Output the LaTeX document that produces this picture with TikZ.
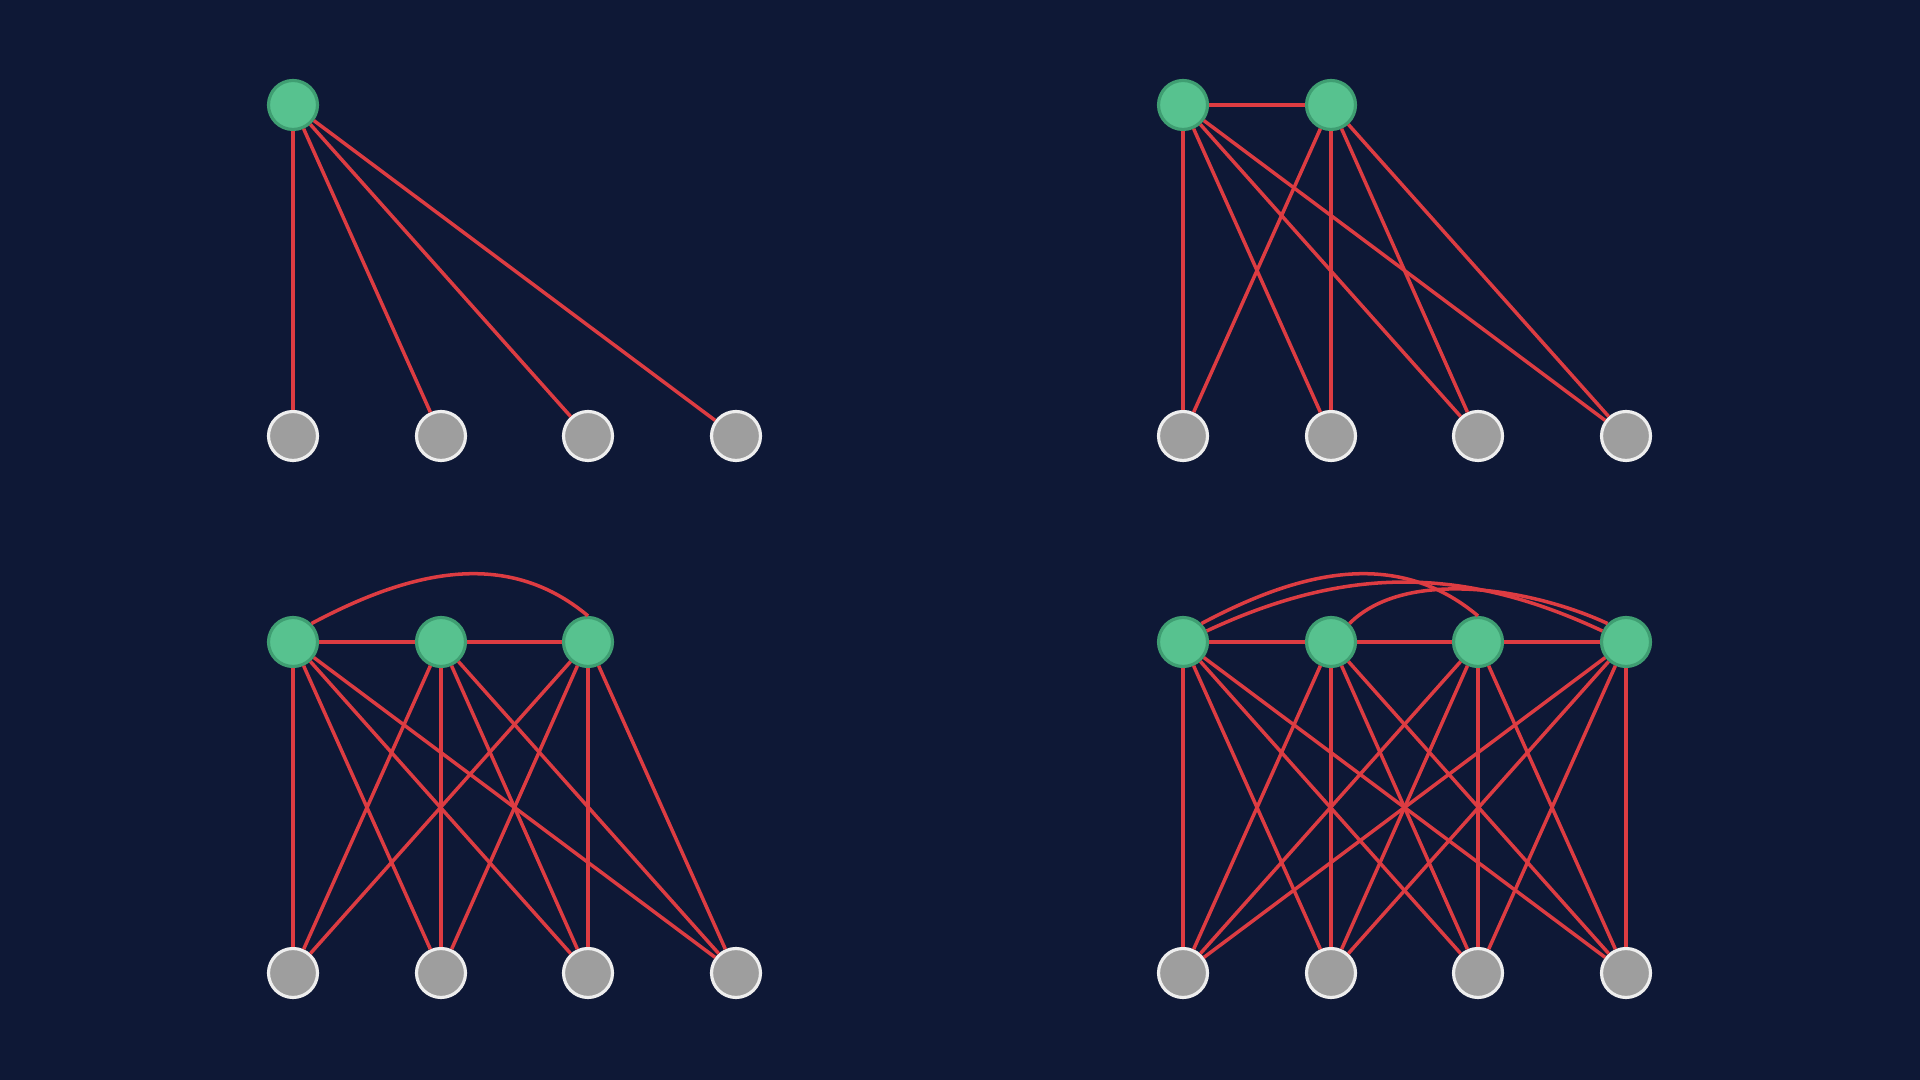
\documentclass[tikz,border=0pt]{standalone}
\usepackage{tikz}
\definecolor{bgnavy}{RGB}{14,24,54}
\definecolor{hubgreen}{RGB}{87,194,143}
\definecolor{hubrim}{RGB}{63,158,114}
\definecolor{leafgray}{RGB}{158,158,158}
\definecolor{leafrim}{RGB}{238,238,238}
\definecolor{linkred}{RGB}{221,60,66}
\tikzset{
    hub/.style={circle, fill=hubgreen, draw=hubrim, line width=0.9pt, minimum size=4.9mm, inner sep=0pt},
    leaf/.style={circle, fill=leafgray, draw=leafrim, line width=0.9pt, minimum size=4.9mm, inner sep=0pt},
    link/.style={linkred, line width=1pt}
}

\begin{document}
\begin{tikzpicture}
    % Background
    \fill[bgnavy] (0,0) rectangle (19.2,10.8);
    \useasboundingbox (0,0) rectangle (19.2,10.8);

    % Top left: one hub
    \node[hub] (Ah1) at (2.93,9.75) {};
    \node[leaf] (Al1) at (2.93,6.44) {};
    \node[leaf] (Al2) at (4.41,6.44) {};
    \node[leaf] (Al3) at (5.88,6.44) {};
    \node[leaf] (Al4) at (7.36,6.44) {};
    \foreach \j in {1,...,4}
        \draw[link] (Ah1) -- (Al\j);

    % Top right: two hubs
    \node[hub] (Bh1) at (11.83,9.75) {};
    \node[hub] (Bh2) at (13.31,9.75) {};
    \node[leaf] (Bl1) at (11.83,6.44) {};
    \node[leaf] (Bl2) at (13.31,6.44) {};
    \node[leaf] (Bl3) at (14.78,6.44) {};
    \node[leaf] (Bl4) at (16.26,6.44) {};
    \draw[link] (Bh1) -- (Bh2);
    \foreach \i in {1,2}
        \foreach \j in {1,...,4}
            \draw[link] (Bh\i) -- (Bl\j);

    % Bottom left: three hubs
    \node[hub] (Ch1) at (2.93,4.38) {};
    \node[hub] (Ch2) at (4.41,4.38) {};
    \node[hub] (Ch3) at (5.88,4.38) {};
    \node[leaf] (Cl1) at (2.93,1.07) {};
    \node[leaf] (Cl2) at (4.41,1.07) {};
    \node[leaf] (Cl3) at (5.88,1.07) {};
    \node[leaf] (Cl4) at (7.36,1.07) {};
    \draw[link] (Ch1) -- (Ch2);
    \draw[link] (Ch2) -- (Ch3);
    \draw[link] (Ch1.north east) to[out=28, in=140] (Ch3.north);
    \foreach \i in {1,2,3}
        \foreach \j in {1,...,4}
            \draw[link] (Ch\i) -- (Cl\j);

    % Bottom right: four hubs
    \node[hub] (Dh1) at (11.83,4.38) {};
    \node[hub] (Dh2) at (13.31,4.38) {};
    \node[hub] (Dh3) at (14.78,4.38) {};
    \node[hub] (Dh4) at (16.26,4.38) {};
    \node[leaf] (Dl1) at (11.83,1.07) {};
    \node[leaf] (Dl2) at (13.31,1.07) {};
    \node[leaf] (Dl3) at (14.78,1.07) {};
    \node[leaf] (Dl4) at (16.26,1.07) {};
    \draw[link] (Dh1) -- (Dh2);
    \draw[link] (Dh2) -- (Dh3);
    \draw[link] (Dh3) -- (Dh4);
    \draw[link] (Dh1.north east) to[out=28, in=140] (Dh3.north);
    \draw[link] (Dh1) to[out=25, in=155] (Dh4);
    \draw[link] (Dh2.north east) to[out=45, in=155, looseness=0.8] (Dh4.north west);
    \foreach \i in {1,...,4}
        \foreach \j in {1,...,4}
            \draw[link] (Dh\i) -- (Dl\j);
\end{tikzpicture}
\end{document}
